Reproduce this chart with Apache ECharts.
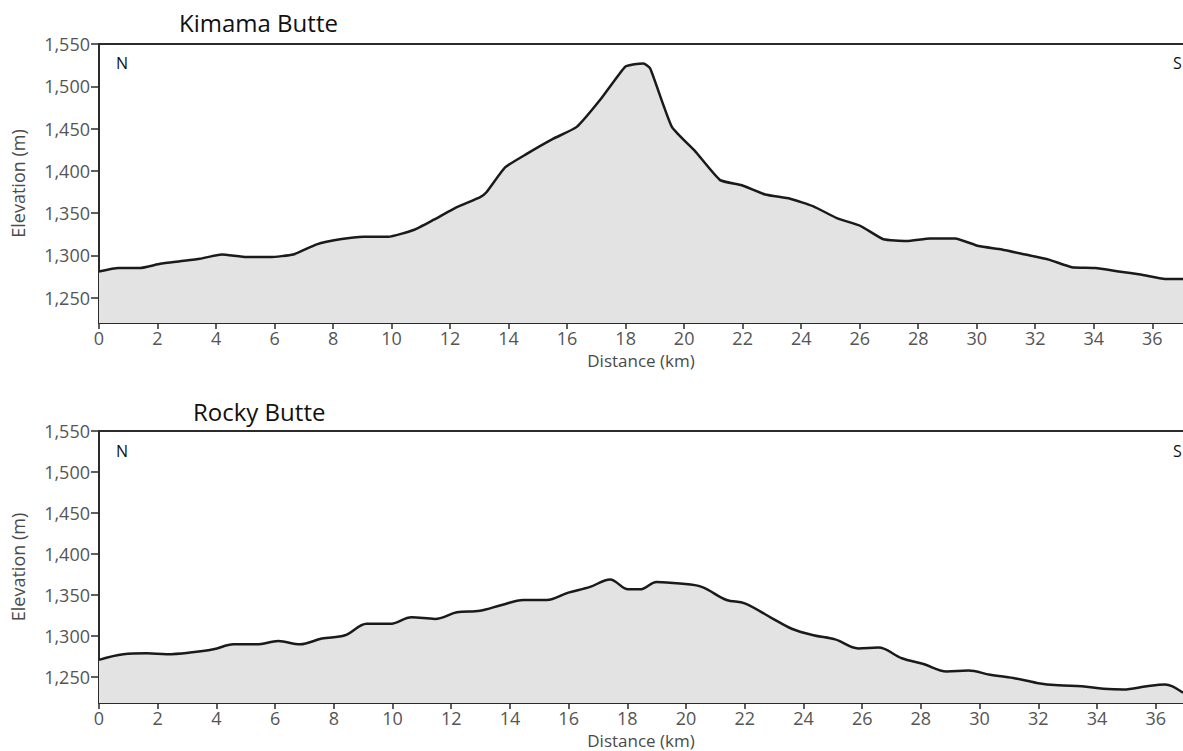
<!DOCTYPE html>
<html>
<head>
<meta charset="utf-8">
<script src="https://cdn.jsdelivr.net/npm/echarts@6/dist/echarts.min.js"></script>
<style>
html,body{margin:0;padding:0;background:#fff;}
#chart{width:1183px;height:751px;}
</style>
</head>
<body>
<div id="chart"></div>
<script>
// Kimama Butte profile: [distance km, elevation m]
const kimamaDist = [0,0.66,1.4,2.09,2.77,3.45,4.19,5.05,5.85,6.64,7.44,8.24,9.04,9.89,10.75,11.43,12.23,13.03,13.25,13.88,14.62,15.53,16.33,17.13,17.98,18.3,18.61,18.84,19.58,20.38,21.23,21.97,22.77,23.62,24.42,25.22,26.02,26.81,27.61,28.41,29.26,30.06,30.86,31.66,32.46,33.25,34.05,34.85,35.65,36.44,37.05];
const kimamaElev = [1281,1285,1285,1290,1293,1296,1301,1298,1298,1301,1313,1319,1322,1322,1330,1342,1357,1369,1375,1404,1420,1438,1452,1484,1523,1526,1527,1521,1452,1423,1389,1383,1372,1367,1358,1344,1335,1319,1317,1320,1320,1311,1307,1301,1295,1286,1285,1281,1277,1272,1272];

// Rocky Butte profile
const rockyDist = [0,0.83,1.62,2.31,3.1,3.9,4.58,5.37,6.11,6.85,7.59,8.38,9.12,9.91,10.65,11.45,12.19,12.98,13.72,14.46,15.25,15.99,16.73,17.41,18.03,18.43,19.0,19.8,20.53,21.38,22.0,22.92,23.6,24.34,25.08,25.87,26.55,27.35,28.09,28.88,29.62,30.36,31.15,31.95,32.69,33.48,34.22,34.9,35.7,36.32,36.55,36.93];
const rockyElev = [1271,1278,1279,1278,1280,1284,1290,1290,1294,1290,1297,1301,1315,1315,1323,1321,1329,1331,1338,1344,1344,1353,1360,1369,1357,1357,1366,1364,1360,1344,1340,1322,1309,1301,1296,1285,1286,1273,1266,1257,1258,1253,1249,1243,1240,1239,1236,1235,1239,1241,1239,1231];

const distTicks = [0,2,4,6,8,10,12,14,16,18,20,22,24,26,28,30,32,34,36];
const elevTicks = [1250,1300,1350,1400,1450,1500,1550];
const titles = ['Kimama Butte','Rocky Butte'];

const FONT = 'Open Sans';
const fmt = v => String(v).replace(/\B(?=(\d{3})+(?!\d))/g, ',');
const zip = (a,b) => a.map((x,i)=>[x,b[i]]);
const AXIS_COLOR = '#2b2b2b';

function xAxisFor(idx, max){
  return {
    type:'value', gridIndex:idx, min:0, max:max, position:'bottom',
    name:'Distance (km)', nameLocation:'middle', nameGap:29,
    nameTextStyle:{color:'#4a4a4a', fontFamily:FONT, fontSize:17},
    axisLine:{show:true, onZero:false, lineStyle:{color:AXIS_COLOR, width:2}},
    axisTick:{show:true, length:6, lineStyle:{color:AXIS_COLOR, width:1.5}, customValues:distTicks},
    axisLabel:{color:'#555', fontFamily:FONT, fontSize:18, margin:6, customValues:distTicks},
    splitLine:{show:false}
  };
}
function xTopFor(idx, max){
  return {
    type:'value', gridIndex:idx, min:0, max:max, position:'top',
    axisLine:{show:true, onZero:false, lineStyle:{color:AXIS_COLOR, width:2}},
    axisTick:{show:false}, axisLabel:{show:false}, splitLine:{show:false}
  };
}
function yAxisFor(idx, min){
  return {
    type:'value', gridIndex:idx, min:min, max:1550,
    name:'Elevation (m)', nameLocation:'middle', nameGap:72, nameRotate:90,
    nameTextStyle:{color:'#4a4a4a', fontFamily:FONT, fontSize:18},
    axisLine:{show:true, onZero:false, lineStyle:{color:AXIS_COLOR, width:2}},
    axisTick:{show:true, length:8, lineStyle:{color:AXIS_COLOR, width:1.5}, customValues:elevTicks},
    axisLabel:{color:'#555', fontFamily:FONT, fontSize:18, margin:9, formatter:fmt, customValues:elevTicks},
    splitLine:{show:false}
  };
}
function seriesFor(idx, data){
  return {
    type:'line', xAxisIndex:idx, yAxisIndex:idx, data:data,
    symbol:'none', smooth: idx===1 ? 0.35 : 0.15,
    lineStyle:{color:'#1a1a1a', width:2.5},
    areaStyle:{color:'#e3e3e3', opacity:1, origin:'start'},
    silent:true, animation:false
  };
}
const lbl = (t,l,tp,size) => ({text:t, left:l, top:tp, textStyle:{fontFamily:FONT, fontSize:size, fontWeight:'normal', color:'#111'}});

const chart = echarts.init(document.getElementById('chart'), null, {renderer:'svg'});
chart.setOption({
  backgroundColor:'#fff',
  animation:false,
  title:[
    lbl(titles[0], 174, 5, 24),
    lbl(titles[1], 188, 394, 24),
    lbl('N', 111, 50, 16),
    lbl('S', 1168, 50, 16),
    lbl('N', 111, 438, 16),
    lbl('S', 1168, 438, 16)
  ],
  grid:[
    {left:99, top:44, right:0, bottom:428, show:false, containLabel:false},
    {left:99, top:431, right:0, bottom:48, show:false, containLabel:false}
  ],
  xAxis:[xAxisFor(0, 37.05), xAxisFor(1, 36.93), xTopFor(0, 37.05), xTopFor(1, 36.93)],
  yAxis:[yAxisFor(0, 1220), yAxisFor(1, 1218.5)],
  series:[seriesFor(0, zip(kimamaDist,kimamaElev)), seriesFor(1, zip(rockyDist,rockyElev))]
});
</script>
</body>
</html>
